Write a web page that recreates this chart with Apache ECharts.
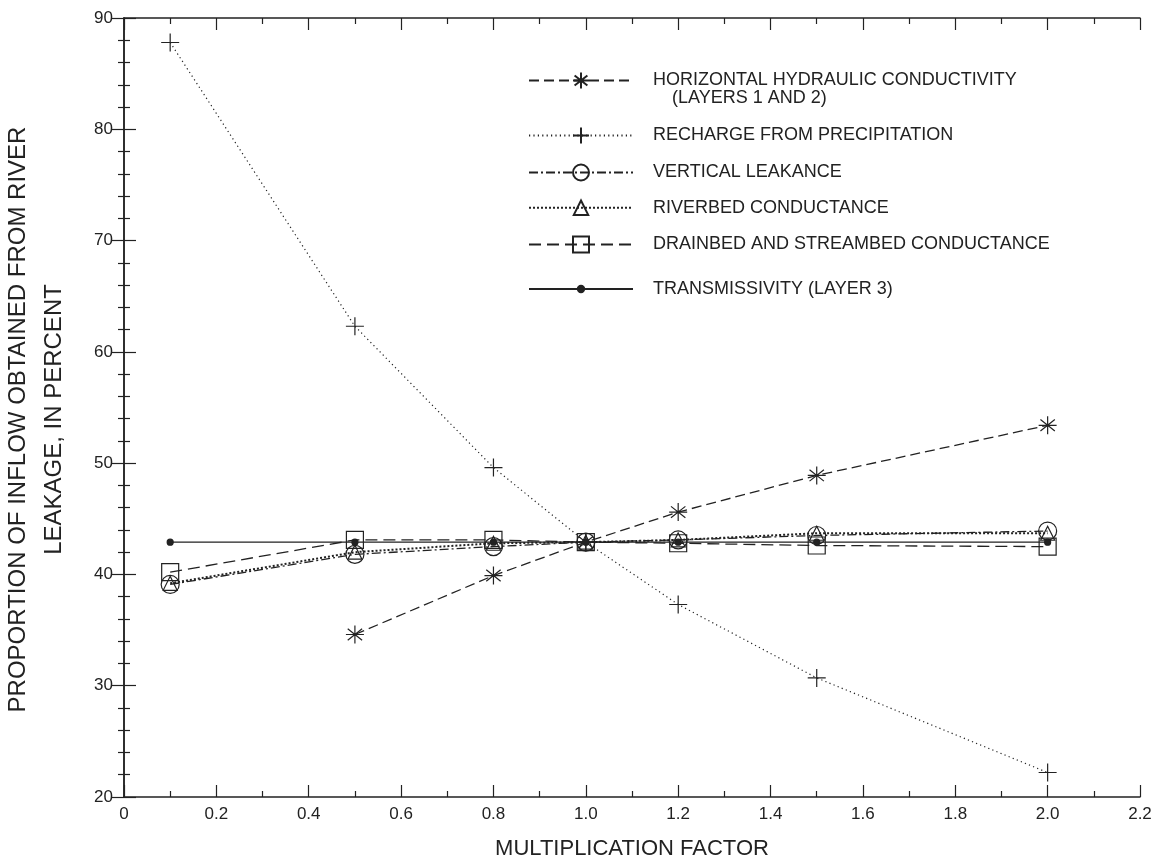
<!DOCTYPE html>
<html>
<head>
<meta charset="utf-8">
<script src="https://cdn.jsdelivr.net/npm/echarts@6/dist/echarts.min.js"></script>
<style>
html,body{margin:0;padding:0;background:#fff;}
#chart{width:1155px;height:865px;}
</style>
</head>
<body>
<div id="chart"></div>
<script>
// multiplication factors
var factors = [0.1, 0.5, 0.8, 1.0, 1.2, 1.5, 2.0];
// percent of inflow from river leakage
var hydraulicCond = [null, 34.6, 39.9, 42.9, 45.6, 48.9, 53.4];
var recharge = [87.8, 62.3, 49.6, 42.9, 37.3, 30.7, 22.2];
var vertLeakance = [39.1, 41.8, 42.5, 42.9, 43.1, 43.5, 43.9];
var riverbedCond = [39.2, 42.0, 42.8, 42.9, 43.1, 43.7, 43.7];
var drainbedCond = [40.2, 43.1, 43.1, 42.9, 42.8, 42.6, 42.5];
var transmissivity = [42.9, 42.9, 42.9, 42.9, 42.9, 42.9, 42.9];

var names = [
    'HORIZONTAL HYDRAULIC CONDUCTIVITY',
    'RECHARGE FROM PRECIPITATION',
    'VERTICAL LEAKANCE',
    'RIVERBED CONDUCTANCE',
    'DRAINBED AND STREAMBED CONDUCTANCE',
    'TRANSMISSIVITY (LAYER 3)'
];

var ink = '#222';
var font = '"Liberation Sans", Arial, Helvetica, sans-serif';
var starPath = 'path://M10,0L10,22M0,11L20,11M2,4L18,18M2,18L18,4';
var plusPath = 'path://M10,0L10,20M0,10L20,10';

function pairs(vals) {
    var d = [];
    for (var i = 0; i < factors.length; i++) {
        if (vals[i] != null) d.push([factors[i], vals[i]]);
    }
    return d;
}

function mkSeries(name, vals, symbol, size, dash, width, fill) {
    return {
        name: name,
        type: 'line',
        data: pairs(vals),
        symbol: symbol,
        symbolSize: size,
        showAllSymbol: true,
        lineStyle: {color: ink, width: width, type: dash},
        itemStyle: {color: fill, borderColor: ink, borderWidth: 1.2},
        emphasis: {disabled: true},
        silent: true,
        z: 2
    };
}

// one legend box per entry so each row can sit where it sits in the figure
var legendRows = [79, 134, 171, 207, 243, 289];
var legendIconH = [20, 20, 20, 18, 20, 8];
var legends = [];
for (var k = 0; k < names.length; k++) {
    legends.push({
        data: [names[k]],
        left: 528,
        top: legendRows[k] - 9,
        padding: 0,
        itemWidth: 104,
        itemHeight: legendIconH[k],
        selectedMode: false,
        textStyle: {color: ink, fontSize: 18, fontFamily: font, padding: [0, 0, 0, 15]}
    });
}

var mychart = echarts.init(document.getElementById('chart'));
var option = {
    backgroundColor: '#fff',
    animation: false,
    textStyle: {fontFamily: font},
    grid: {left: 124, right: 15, top: 18, bottom: 68, containLabel: false, outerBoundsMode: 'none'},
    legend: legends,
    graphic: [{
        type: 'text',
        left: 672,
        top: 89,
        style: {text: '(LAYERS 1 AND 2)', fill: ink, font: '18px ' + font}
    }],
    xAxis: [{
        type: 'value',
        min: 0, max: 2.2, interval: 0.2,
        name: 'MULTIPLICATION FACTOR',
        nameLocation: 'middle',
        nameGap: 41,
        nameTextStyle: {color: ink, fontSize: 22, fontFamily: font},
        axisLine: {show: true, lineStyle: {color: ink, width: 1.5}},
        axisTick: {inside: true, length: 12, lineStyle: {color: ink, width: 1.2}},
        minorTick: {show: true, splitNumber: 2, length: 6, lineStyle: {color: ink, width: 1.2}},
        axisLabel: {color: ink, fontSize: 17, margin: 9, formatter: function (v) { return v === 0 ? '0' : v.toFixed(1); }},
        splitLine: {show: false}
    }, {
        type: 'value',
        position: 'top',
        min: 0, max: 2.2, interval: 0.2,
        axisLine: {show: true, lineStyle: {color: ink, width: 1.5}},
        axisTick: {inside: true, length: 12, lineStyle: {color: ink, width: 1.2}},
        minorTick: {show: true, splitNumber: 2, length: 6, lineStyle: {color: ink, width: 1.2}},
        axisLabel: {show: false},
        splitLine: {show: false}
    }],
    yAxis: [{
        type: 'value',
        min: 20, max: 90, interval: 10,
        name: 'PROPORTION OF INFLOW OBTAINED FROM RIVER\nLEAKAGE, IN PERCENT',
        nameLocation: 'middle',
        nameGap: 52,
        nameRotate: 90,
        nameTextStyle: {color: ink, fontSize: 24, fontFamily: font, lineHeight: 36, padding: [0, 24, 0, 0]},
        axisLine: {show: true, lineStyle: {color: ink, width: 1.5}},
        axisTick: {inside: true, length: 12, lineStyle: {color: ink, width: 1.2}},
        minorTick: {show: true, splitNumber: 5, length: 6, lineStyle: {color: ink, width: 1.2}},
        axisLabel: {color: ink, fontSize: 17, margin: 11},
        splitLine: {show: false}
    }, {
        type: 'value',
        position: 'right',
        min: 20, max: 90, interval: 10,
        axisLine: {show: true, lineStyle: {color: ink, width: 1.5}},
        axisTick: {inside: true, length: 12, lineStyle: {color: ink, width: 1.2}},
        minorTick: {show: true, splitNumber: 5, length: 6, lineStyle: {color: ink, width: 1.2}},
        axisLabel: {show: false},
        splitLine: {show: false}
    }],
    series: [
        mkSeries(names[0], hydraulicCond, starPath, 18, [10, 5], 1.3, 'none'),
        mkSeries(names[1], recharge, plusPath, 18, [1.2, 3.2], 1.2, 'none'),
        mkSeries(names[2], vertLeakance, 'circle', 18, [9, 3, 2, 3], 1.3, 'none'),
        mkSeries(names[3], riverbedCond, 'triangle', 14, [2, 2], 2, 'none'),
        mkSeries(names[4], drainbedCond, 'rect', 17, [12, 6], 1.3, 'none'),
        mkSeries(names[5], transmissivity, 'circle', 6, 'solid', 1.4, ink)
    ]
};
mychart.setOption(option);
</script>
</body>
</html>
